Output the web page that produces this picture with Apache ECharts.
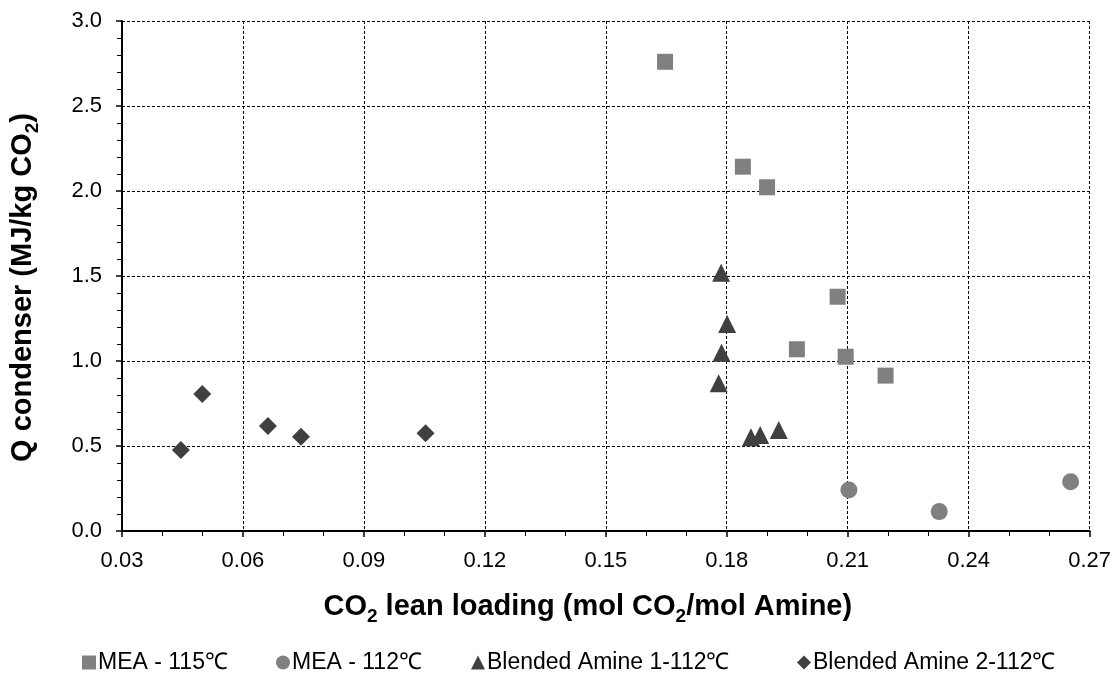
<!DOCTYPE html>
<html>
<head>
<meta charset="utf-8">
<script src="https://cdn.jsdelivr.net/npm/echarts@6/dist/echarts.min.js"></script>
<style>html,body{margin:0;padding:0;background:#fff}#c{width:1114px;height:688px}</style>
</head>
<body>
<div id="c"></div>
<script>
// Data
const seriesNames = ['MEA - 115℃', 'MEA - 112℃', 'Blended Amine 1-112℃', 'Blended Amine 2-112℃'];
const mea115 = [[0.1647, 2.76], [0.184, 2.143], [0.190, 2.022], [0.2075, 1.378], [0.1974, 1.069], [0.2095, 1.025], [0.2194, 0.914]];
const mea112 = [[0.2103, 0.241], [0.2327, 0.114], [0.2653, 0.29]];
const blend1 = [[0.1786, 1.519], [0.1801, 1.218], [0.1787, 1.049], [0.178, 0.869], [0.186, 0.551], [0.1883, 0.565], [0.1929, 0.594]];
const blend2 = [[0.0446, 0.476], [0.0499, 0.806], [0.0662, 0.618], [0.0744, 0.555], [0.1053, 0.575]];
const xTicks = { min: 0.03, max: 0.27, step: 0.03 };
const yTicks = { min: 0, max: 3.0, step: 0.5 };

const chart = echarts.init(document.getElementById('c'));
const font = 'Liberation Sans, Arial, sans-serif';
const gridLine = { show: true, lineStyle: { color: '#000', width: 1, type: [3, 2] } };
const richT = {
  b: { fontSize: 29, fontWeight: 'bold', fontFamily: font, color: '#000', lineHeight: 34, verticalAlign: 'top' },
  s: { fontSize: 19, fontWeight: 'bold', fontFamily: font, color: '#000', lineHeight: 17, verticalAlign: 'bottom' }
};
const markers = ['rect', 'circle', 'triangle', 'diamond'];
const colors = ['#808080', '#808080', '#404040', '#404040'];
const sizes = [16, 17, 18, 18];
const datas = [mea115, mea112, blend1, blend2];
const legendLeft = [82, 276, 471, 797];

chart.setOption({
  animation: false,
  grid: { left: 120, right: 22, top: 21, bottom: 157 },
  xAxis: {
    type: 'value', min: xTicks.min, max: xTicks.max, interval: xTicks.step,
    axisLine: { show: true, onZero: false, lineStyle: { color: '#000', width: 2 } },
    axisTick: { show: true, length: 6, lineStyle: { color: '#000', width: 1.5 } },
    minorTick: { show: true, splitNumber: 3, length: 5, lineStyle: { color: '#000', width: 1 } },
    splitLine: gridLine,
    axisLabel: { fontSize: 22, fontFamily: font, color: '#000', margin: 19, formatter: v => v.toFixed(2) },
    name: '{b|CO}{s|2}{b| lean loading (mol CO}{s|2}{b|/mol Amine)}',
    nameLocation: 'middle', nameGap: 61,
    nameTextStyle: { rich: richT, padding: [0, 36, 0, 0] }
  },
  yAxis: {
    type: 'value', min: yTicks.min, max: yTicks.max, interval: yTicks.step,
    axisLine: { show: true, onZero: false, lineStyle: { color: '#000', width: 2 } },
    axisTick: { show: true, length: 6, lineStyle: { color: '#000', width: 1.5 } },
    minorTick: { show: true, splitNumber: 5, length: 5, lineStyle: { color: '#000', width: 1 } },
    splitLine: gridLine,
    axisLabel: { fontSize: 22, fontFamily: font, color: '#000', margin: 20, formatter: v => v.toFixed(1) },
    name: '{b|Q condenser (MJ/kg CO}{s|2}{b|)}',
    nameLocation: 'middle', nameGap: 80,
    nameTextStyle: { rich: richT, padding: [0, 23, 0, 0] }
  },
  legend: seriesNames.map((n, i) => ({
    left: legendLeft[i], top: 651, itemWidth: 14, itemHeight: 14, padding: 0,
    textStyle: { fontSize: 23, fontFamily: font, color: '#000', padding: [0, 0, 0, -3] },
    data: [{ name: n, icon: markers[i] }]
  })),
  series: datas.map((d, i) => ({
    name: seriesNames[i], type: 'scatter', data: d,
    symbol: markers[i], symbolSize: sizes[i],
    itemStyle: { color: colors[i], opacity: 1 }
  }))
});
</script>
</body>
</html>
